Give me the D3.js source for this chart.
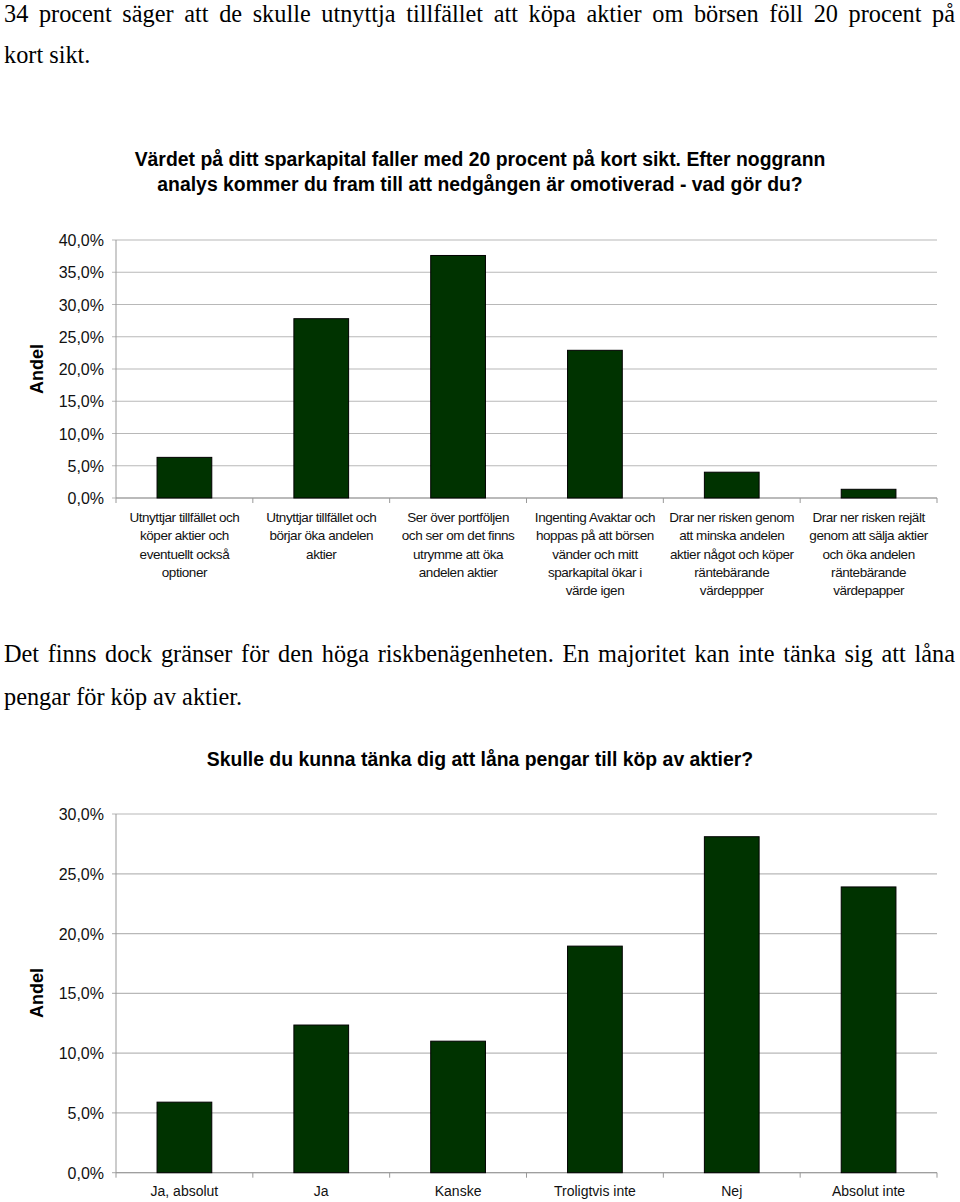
<!DOCTYPE html>
<html>
<head>
<meta charset="utf-8">
<script src="https://cdn.jsdelivr.net/npm/d3@7"></script>
<style>
body { margin: 0; background: white; }
</style>
</head>
<body>
<script>
// data for the first chart
var topCategories = [
	["Utnyttjar tillfället och", "köper aktier och", "eventuellt också", "optioner"],
	["Utnyttjar tillfället och", "börjar öka andelen", "aktier"],
	["Ser över portföljen", "och ser om det finns", "utrymme att öka", "andelen aktier"],
	["Ingenting Avaktar och", "hoppas på att börsen", "vänder och mitt", "sparkapital ökar i", "värde igen"],
	["Drar ner risken genom", "att minska andelen", "aktier något och köper", "räntebärande", "värdeppper"],
	["Drar ner risken rejält", "genom att sälja aktier", "och öka andelen", "räntebärande", "värdepapper"]
];
var topValues = [6.3, 27.8, 37.6, 22.9, 4.0, 1.35];
var topTicks = [0, 5, 10, 15, 20, 25, 30, 35, 40];

// data for the second chart
var bottomCategories = ["Ja, absolut", "Ja", "Kanske", "Troligtvis inte", "Nej", "Absolut inte"];
var bottomValues = [5.9, 12.35, 11.0, 18.95, 28.1, 23.9];
var bottomTicks = [0, 5, 10, 15, 20, 25, 30];

var svg = d3.select("body")
	.append("svg")
	.attr("width", 960)
	.attr("height", 1202);

var serif = "'Liberation Serif', 'Times New Roman', serif";
var sans = "'Liberation Sans', Arial, sans-serif";

// running text, full lines justified by widening the word gaps
function para(y, txt, full) {
	var t = svg.append("text")
		.attr("x", 4)
		.attr("y", y)
		.style("font-family", serif)
		.style("font-size", "24.3px")
		.attr("fill", "#000")
		.text(txt);
	if (full) {
		var w = t.node().getComputedTextLength();
		var gaps = txt.split(" ").length - 1;
		t.style("word-spacing", ((951 - w) / gaps) + "px");
	}
}
para(22, "34 procent säger att de skulle utnyttja tillfället att köpa aktier om börsen föll 20 procent på", true);
para(63, "kort sikt.", false);
para(662, "Det finns dock gränser för den höga riskbenägenheten. En majoritet kan inte tänka sig att låna", true);
para(705, "pengar för köp av aktier.", false);

function title(lines, y0) {
	lines.forEach(function(l, i) {
		svg.append("text")
			.attr("x", 480)
			.attr("y", y0 + i * 25)
			.attr("text-anchor", "middle")
			.style("font-family", sans)
			.style("font-size", "19.4px")
			.style("font-weight", "bold")
			.text(l);
	});
}
title(["Värdet på ditt sparkapital faller med 20 procent på kort sikt. Efter noggrann",
	"analys kommer du fram till att nedgången är omotiverad - vad gör du?"], 166);
title(["Skulle du kunna tänka dig att låna pengar till köp av aktier?"], 766);

function barChart(opts) {
	var x = d3.scaleBand()
		.domain(d3.range(opts.values.length))
		.range([116, 937])
		.paddingInner(0.6)
		.paddingOuter(0.3);
	var y = d3.scaleLinear()
		.domain([0, opts.max])
		.range([opts.bottom, opts.top]);

	var g = svg.append("g");

	// gridlines
	g.selectAll("line.grid")
		.data(opts.ticks)
		.join("line")
		.attr("class", "grid")
		.attr("x1", 112)
		.attr("x2", 937)
		.attr("y1", d => y(d))
		.attr("y2", d => y(d))
		.attr("stroke", "#b8b8b8")
		.attr("stroke-width", 1.2);

	// y axis labels
	g.selectAll("text.ytick")
		.data(opts.ticks)
		.join("text")
		.attr("class", "ytick")
		.attr("x", 104)
		.attr("y", d => y(d) + 6)
		.attr("text-anchor", "end")
		.style("font-family", sans)
		.style("font-size", "16px")
		.attr("fill", "#111")
		.text(d => d.toFixed(1).replace(".", ",") + "%");

	// axis lines
	g.append("line")
		.attr("x1", 116).attr("x2", 116)
		.attr("y1", y(opts.max)).attr("y2", opts.bottom)
		.attr("stroke", "#999");
	g.append("line")
		.attr("x1", 116).attr("x2", 937)
		.attr("y1", opts.bottom).attr("y2", opts.bottom)
		.attr("stroke", "#999");

	// category ticks
	g.selectAll("line.xtick")
		.data(d3.range(opts.values.length + 1))
		.join("line")
		.attr("class", "xtick")
		.attr("x1", d => 116 + d * x.step())
		.attr("x2", d => 116 + d * x.step())
		.attr("y1", opts.bottom)
		.attr("y2", opts.bottom + 5)
		.attr("stroke", "#999");

	// bars
	g.selectAll("rect")
		.data(opts.values)
		.join("rect")
		.attr("x", (d, i) => x(i))
		.attr("y", d => y(d))
		.attr("width", x.bandwidth())
		.attr("height", d => opts.bottom - y(d))
		.attr("fill", "#003300")
		.attr("stroke", "#000")
		.attr("stroke-width", 1);

	// category labels
	var lab = g.selectAll("text.cat")
		.data(opts.cats)
		.join("text")
		.attr("class", "cat")
		.attr("text-anchor", "middle")
		.style("font-family", sans)
		.style("font-size", opts.catSize)
		.style("letter-spacing", opts.catSpacing)
		.attr("fill", "#111");
	lab.each(function(d, i) {
		var lines = Array.isArray(d) ? d : [d];
		d3.select(this).selectAll("tspan")
			.data(lines)
			.join("tspan")
			.attr("x", x(i) + x.bandwidth() / 2)
			.attr("y", (l, j) => opts.catY + j * 18.3)
			.text(l => l);
	});

	// axis title
	svg.append("text")
		.attr("transform", "translate(43," + opts.andelY + ") rotate(-90)")
		.attr("text-anchor", "middle")
		.style("font-family", sans)
		.style("font-size", "18px")
		.style("font-weight", "bold")
		.text("Andel");
}

barChart({
	values: topValues, cats: topCategories, ticks: topTicks, max: 40,
	top: 240, bottom: 498, catY: 522, catSize: "13.5px", catSpacing: "-0.45px", andelY: 369
});
barChart({
	values: bottomValues, cats: bottomCategories, ticks: bottomTicks, max: 30,
	top: 814, bottom: 1172.7, catY: 1196, catSize: "14px", catSpacing: "0px", andelY: 993
});
</script>
</body>
</html>
